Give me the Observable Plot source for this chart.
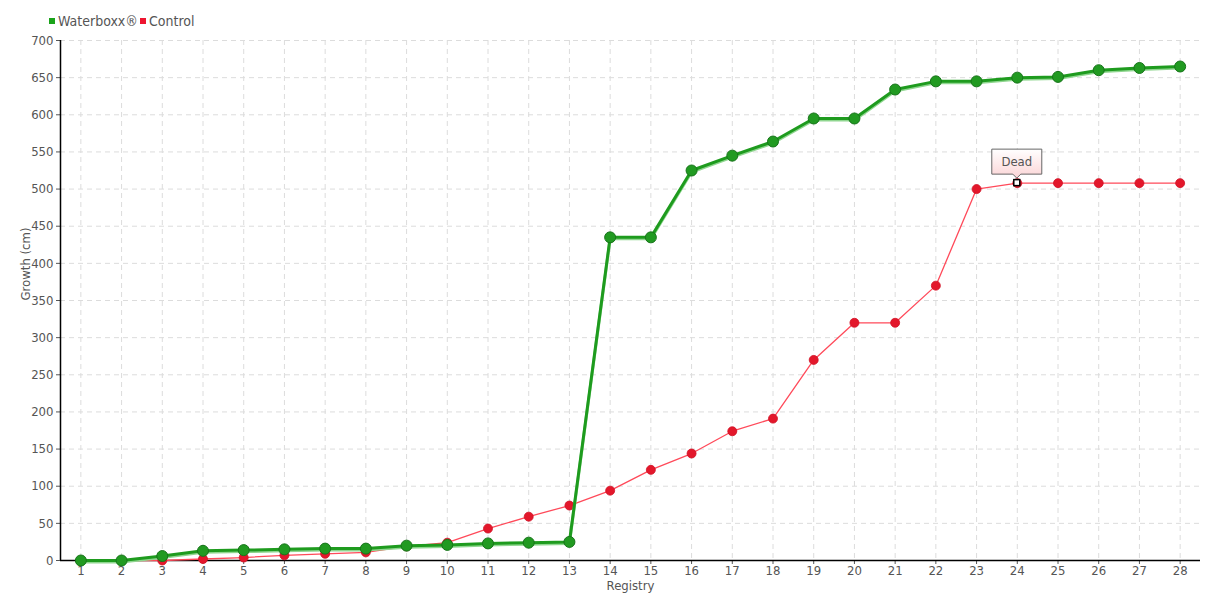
<!DOCTYPE html>
<html>
<head>
<meta charset="utf-8">
<script src="https://cdn.jsdelivr.net/npm/d3@7"></script>
<script src="https://cdn.jsdelivr.net/npm/@observablehq/plot@0.6"></script>
<style>
  body { margin: 0; background: #fff; font-family: "DejaVu Sans Condensed", "Liberation Sans Narrow", sans-serif; }
  #legend { height: 30px; position: relative; font-size: 14px; color: #555; }
  #legend .item { position: absolute; top: 13px; display: flex; align-items: center; line-height: 16px; }
  #legend .sw { width: 6px; height: 6px; margin-right: 3px; display: inline-block; }
  svg { display: block; }
</style>
</head>
<body>
<div id="legend"></div>
<div id="chart"></div>
<script>
const registry = [1,2,3,4,5,6,7,8,9,10,11,12,13,14,15,16,17,18,19,20,21,22,23,24,25,26,27,28];
const waterboxx = [0,0,6,13,14,15,16,16,20,21,23,24,25,435,435,525,545,564,595,595,634,645,645,650,651,660,663,665];
const control = [0,0,0,2,4,7,9,11,19,24,43,59,74,94,122,144,174,191,270,320,320,370,500,508,508,508,508,508];
const yTicks = [0,50,100,150,200,250,300,350,400,450,500,550,600,650,700];
const seriesNames = ["Waterboxx®", "Control"];
const seriesColors = ["#1aa31a", "#ee1530"];
const xLabel = "Registry";
const yLabel = "Growth (cm)";
const annotation = { registry: 24, series: "Control", label: "Dead" };

const legend = document.getElementById("legend");
const legendX = [49, 140];
seriesNames.forEach((n, i) => {
  const d = document.createElement("div");
  d.className = "item";
  d.style.left = legendX[i] + "px";
  d.innerHTML = `<span class="sw" style="background:${seriesColors[i]}"></span><span>${n}</span>`;
  legend.appendChild(d);
});

const wb = registry.map((r, i) => ({ r, v: waterboxx[i] }));
const ct = registry.map((r, i) => ({ r, v: control[i] }));

const chart = Plot.plot({
  width: 1220,
  height: 570,
  marginTop: 10,
  marginBottom: 40,
  marginLeft: 60,
  marginRight: 20,
  style: { fontFamily: '"DejaVu Sans Condensed", "Liberation Sans Narrow", sans-serif', fontSize: "13px", color: "#555", background: "#fff" },
  x: { domain: [0.5, 28.5], ticks: registry, tickFormat: d => String(d), tickSize: 4, tickPadding: 1, label: null },
  y: { domain: [0, 700], ticks: yTicks, tickSize: 4, tickPadding: 3, label: null },
  marks: [
    Plot.ruleX(registry, { stroke: "#dcdcdc", strokeDasharray: "5,4" }),
    Plot.ruleY(yTicks.filter(t => t > 0), { stroke: "#dcdcdc", strokeDasharray: "5,4" }),
    Plot.ruleY([0], { stroke: "#000", strokeWidth: 1.5 }),
    Plot.ruleX([0.5], { stroke: "#000", strokeWidth: 1.5 }),
    Plot.text([xLabel], { frameAnchor: "bottom", dy: 20, lineAnchor: "top", fill: "#555", fontSize: 13 }),
    Plot.text([yLabel], { frameAnchor: "left", dx: -35, rotate: -90, fill: "#555", fontSize: 13 }),
    Plot.line(ct, { x: "r", y: "v", stroke: "#ff4a5a", strokeWidth: 1.3 }),
    Plot.dot(ct, { x: "r", y: "v", r: 4.5, fill: "#e3172b", stroke: "#d01025", strokeWidth: 0.8 }),
    Plot.line(wb, { x: "r", y: "v", stroke: "#8fd68f", strokeWidth: 3, dy: 1.5 }),
    Plot.line(wb, { x: "r", y: "v", stroke: "#1e9b1e", strokeWidth: 3 }),
    Plot.dot(wb, { x: "r", y: "v", r: 5.5, fill: "#219a21", stroke: "#17741a", strokeWidth: 1 })
  ]
});
document.getElementById("chart").appendChild(chart);

// annotation tooltip positioned through the chart scales
const sx = chart.scale("x"), sy = chart.scale("y");
const aval = control[registry.indexOf(annotation.registry)];
const px = sx.apply(annotation.registry), py = sy.apply(aval);
const svg = d3.select(chart);
const defs = svg.append("defs");
const grad = defs.append("linearGradient").attr("id", "tipgrad").attr("x1", 0).attr("x2", 0).attr("y1", 0).attr("y2", 1);
grad.append("stop").attr("offset", "0%").attr("stop-color", "#ffffff");
grad.append("stop").attr("offset", "100%").attr("stop-color", "#fbd4d6");
const g = svg.append("g");
const bw = 50, bh = 25, by = py - 8.5 - bh;
g.append("path")
  .attr("d", `M${px - bw/2},${by} h${bw} v${bh} h${-(bw/2 - 4)} l-4,4 l-4,-4 h${-(bw/2 - 4)} Z`)
  .attr("fill", "url(#tipgrad)").attr("stroke", "#666").attr("stroke-width", 1);
g.append("text").attr("x", px).attr("y", by + bh/2).attr("dy", "0.35em").attr("text-anchor", "middle")
  .attr("fill", "#555").attr("font-size", "13px").text(annotation.label);
g.append("rect").attr("x", px - 3).attr("y", py - 3).attr("width", 6).attr("height", 6)
  .attr("fill", "#fff").attr("stroke", "#000").attr("stroke-width", 1.5);
</script>
</body>
</html>
